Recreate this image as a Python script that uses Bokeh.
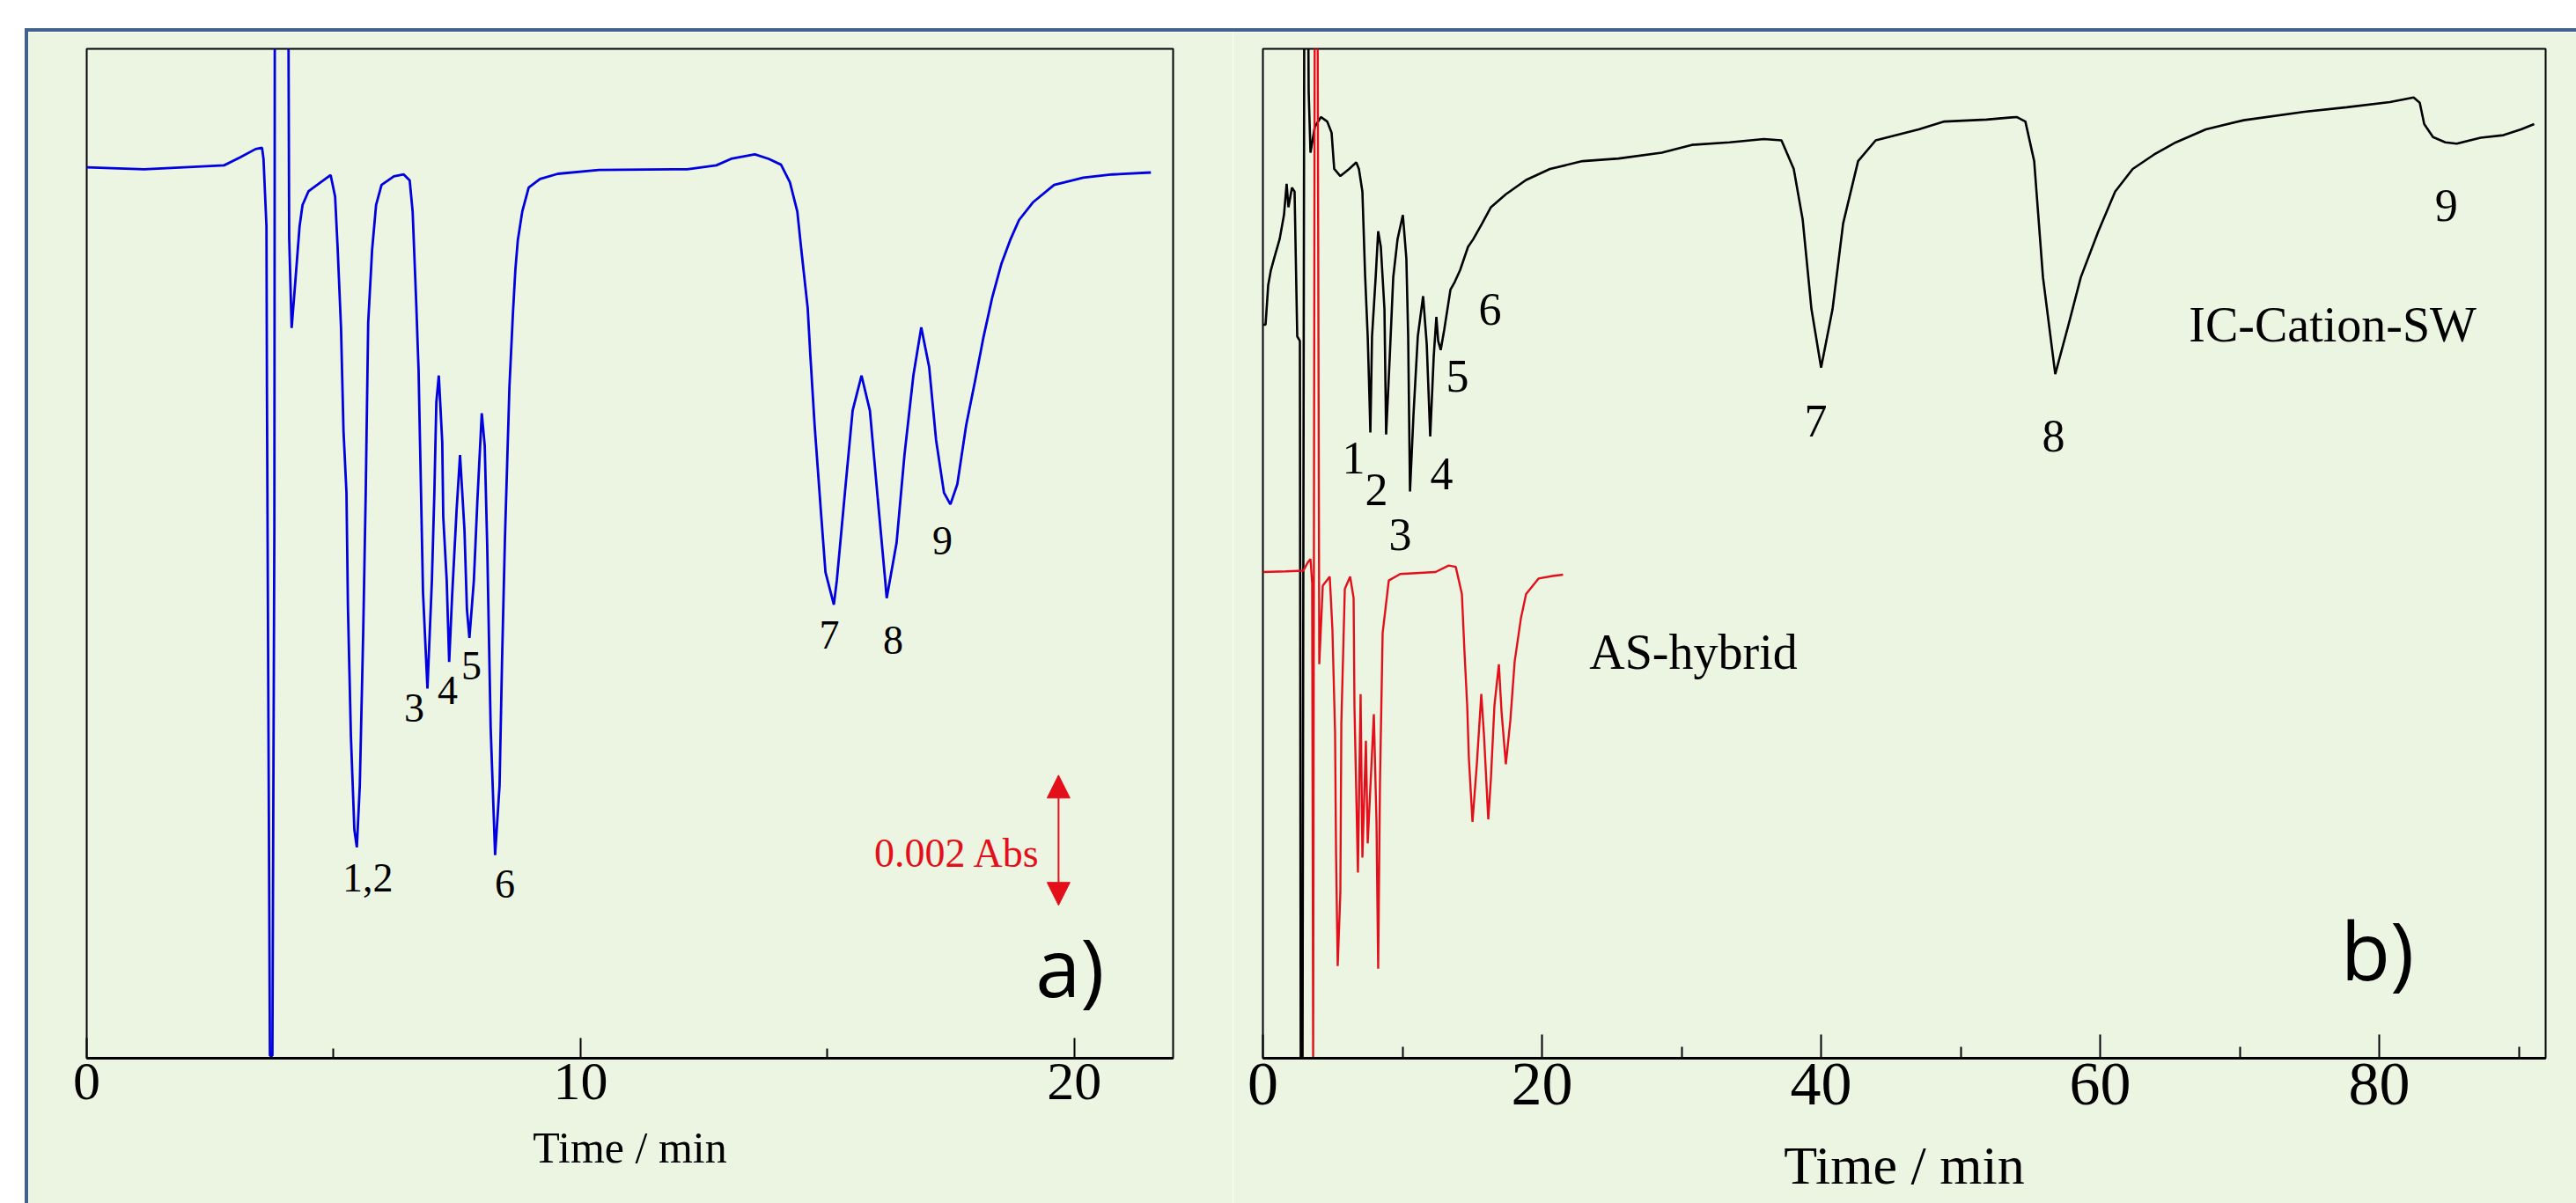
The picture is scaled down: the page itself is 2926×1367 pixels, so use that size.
from bokeh.plotting import figure
from bokeh.models import Range1d, FixedTicker, Label, Arrow, NormalHead, Spacer
from bokeh.layouts import row, column
from bokeh.embed import file_html
from bokeh.resources import INLINE

# ---------------- data (time in min, signal in mAbs-like units) ----------------
a_time = [0.00, 1.16, 2.78, 3.10, 3.42, 3.55, 3.58, 3.64, 3.65, 3.71, 3.76, 3.80, 3.81, 4.08,
          4.10, 4.15, 4.22, 4.31, 4.37, 4.49, 4.72, 4.94, 5.03, 5.08, 5.15, 5.20, 5.26, 5.29,
          5.35, 5.42, 5.47, 5.53, 5.60, 5.65, 5.70, 5.78, 5.86, 5.97, 6.22, 6.42, 6.54, 6.60,
          6.67, 6.72, 6.77, 6.81, 6.90, 6.99, 7.04, 7.08, 7.13, 7.20, 7.22, 7.29, 7.34, 7.40,
          7.49, 7.56, 7.65, 7.70, 7.75, 7.84, 7.91, 8.00, 8.06, 8.11, 8.18, 8.27, 8.36, 8.41,
          8.47, 8.56, 8.63, 8.68, 8.73, 8.82, 8.95, 9.18, 9.54, 10.37, 12.16, 12.75, 13.05,
          13.53, 13.81, 14.06, 14.24, 14.39, 14.47, 14.60, 14.65, 14.74, 14.87, 14.96, 15.13,
          15.19, 15.37, 15.51, 15.69, 15.86, 16.02, 16.17, 16.20, 16.40, 16.56, 16.74, 16.90,
          17.06, 17.20, 17.36, 17.49, 17.63, 17.81, 17.99, 18.16, 18.34, 18.52, 18.70, 18.88,
          19.16, 19.59, 20.18, 20.77, 21.55]
a_signal = [13.69, 13.66, 13.72, 13.84, 13.97, 13.99, 13.82, 12.78, 10.22, 0.04, 0.04, 8.15, 17.0, 17.0,
            12.61, 11.22, 11.89, 12.78, 13.11, 13.32, 13.45, 13.57, 13.24, 12.47, 11.22, 9.64, 8.69, 6.93,
            4.95, 3.51, 3.24, 4.19, 6.57, 8.69, 11.30, 12.43, 13.11, 13.42, 13.55, 13.58, 13.49, 13.01,
            11.66, 10.58, 8.69, 7.16, 5.68, 7.34, 8.69, 10.08, 10.49, 9.46, 8.32, 7.34, 6.09, 7.11,
            8.42, 9.27, 8.11, 6.89, 6.46, 7.34, 8.55, 9.91, 9.41, 7.88, 5.08, 3.12, 4.19, 6.08,
            8.01, 10.31, 11.43, 12.11, 12.57, 13.01, 13.38, 13.51, 13.59, 13.65, 13.66, 13.72, 13.82,
            13.89, 13.82, 13.73, 13.46, 13.01, 12.43, 11.53, 10.85, 9.73, 8.38, 7.47, 6.97,
            7.34, 8.82, 9.95, 10.49, 9.95, 8.59, 7.34, 7.07, 7.92, 9.27, 10.49, 11.23,
            10.62, 9.50, 8.69, 8.51, 8.82, 9.73, 10.41, 11.08, 11.70, 12.20, 12.57, 12.88,
            13.15, 13.42, 13.53, 13.58, 13.61]

b_ic_time = [0.00, 0.19, 0.38, 0.57, 0.88, 1.20, 1.51, 1.70, 1.83, 2.08, 2.27, 2.46, 2.65, 2.71,
             2.84, 2.97, 3.22, 3.28, 3.41, 3.72, 4.16, 4.61, 4.92, 5.11, 5.55, 6.18, 6.69, 6.88,
             7.13, 7.32, 7.51, 7.63, 7.70, 7.82, 8.08, 8.26, 8.45, 8.71, 8.83, 9.09, 9.34, 9.65,
             10.03, 10.28, 10.41, 10.54, 10.79, 11.10, 11.48, 11.74, 11.99, 12.24, 12.43, 12.56,
             12.74, 13.00, 13.44, 13.75, 14.13, 14.70, 15.08, 15.71, 16.34, 17.41, 18.86, 20.57,
             22.90, 25.49, 28.58, 30.73, 33.44, 35.90, 37.16, 38.04, 38.68, 39.31, 40.00, 40.82,
             41.58, 42.65, 43.91, 47.00, 48.83, 51.86, 54.01, 54.64, 55.27, 55.90, 56.78, 57.73,
             58.61, 59.87, 61.07, 62.33, 63.85, 65.43, 67.57, 70.28, 74.64, 77.67, 80.76, 82.46,
             82.90, 83.22, 83.85, 84.73, 85.55, 87.26, 88.90, 90.16, 91.10]
b_ic_signal = [11.30, 11.30, 11.91, 12.14, 12.38, 12.62, 12.99, 13.47, 13.11, 13.41, 13.35, 11.12, 11.05, 0.00,
               0.00, 17.0, 17.0, 14.89, 13.95, 14.35, 14.50, 14.43, 14.26, 13.70, 13.59, 13.70, 13.80, 13.70,
               13.35, 12.08, 11.12, 10.22, 9.64, 11.12, 12.03, 12.74, 12.50, 11.54, 9.61, 10.81, 12.03, 12.62,
               12.99, 12.32, 11.12, 8.73, 9.91, 11.12, 11.74, 11.00, 9.58, 10.81, 11.42, 11.05,
               10.91, 11.23, 11.84, 11.96, 12.14, 12.50, 12.62, 12.86, 13.11, 13.31, 13.53, 13.70,
               13.82, 13.86, 13.95, 14.07, 14.11, 14.16, 14.14, 13.70, 12.92, 11.54, 10.64, 11.54,
               12.86, 13.82, 14.14, 14.31, 14.43, 14.46, 14.50, 14.43, 13.82, 12.03, 10.54, 11.30,
               12.03, 12.74, 13.35, 13.70, 13.92, 14.11, 14.31, 14.45, 14.58, 14.65, 14.73, 14.80,
               14.72, 14.39, 14.19, 14.11, 14.09, 14.18, 14.22, 14.31, 14.39]

b_as_time = [0.00, 1.64, 2.90, 3.22, 3.41, 3.53, 3.60, 3.72, 3.91, 4.04, 4.29, 4.79, 4.98, 5.17,
             5.24, 5.36, 5.55, 5.62, 5.87, 6.25, 6.50, 6.56, 6.81, 7.00, 7.13, 7.38, 7.51, 7.95,
             8.14, 8.26, 8.39, 8.58, 9.02, 9.84, 12.37, 13.31, 13.82, 14.26, 14.45, 14.64, 14.76,
             15.02, 15.33, 15.65, 15.84, 16.15, 16.34, 16.59, 16.91, 17.10, 17.41, 17.73, 18.04,
             18.49, 18.86, 19.75, 20.76, 21.51]
b_as_signal = [7.49, 7.50, 7.51, 7.64, 7.69, 7.32, 0.00, 17.0, 17.0, 6.07, 7.28, 7.42, 6.61, 5.03,
               3.18, 1.42, 2.55, 5.16, 7.23, 7.42, 7.09, 5.43, 2.86, 5.61, 3.09, 4.89, 3.31, 5.30,
               3.64, 1.38, 4.26, 6.55, 7.36, 7.46, 7.49, 7.59, 7.57, 7.15, 6.24, 5.43, 4.62,
               3.64, 4.53, 5.61, 4.99, 3.68, 4.31, 5.43, 6.07, 5.34, 4.53, 5.20, 6.11,
               6.78, 7.15, 7.39, 7.43, 7.45]

a_ticks = [0, 10, 20]
a_minor_ticks = [5, 15]
b_ticks = [0, 20, 40, 60, 80]
b_minor_ticks = [10, 30, 50, 70, 90]
a_peak_labels = ["1,2", "3", "4", "5", "6", "7", "8", "9"]
b_peak_labels = ["1", "2", "3", "4", "5", "6", "7", "8", "9"]
x_title = "Time / min"
scale_text = "0.002 Abs"

# ---------------- styling ----------------
BG = "#ECF5E2"
FRAME_BLUE = "#41628F"
SERIF = "Liberation Serif"
SANS = "Open Sans"
RED = "#E3101B"


def base_fig(width, height, xr, yr, borders, ticks, minor, tick_in, minor_in, tick_fs, title_fs, title_standoff):
    left, right, top, bottom = borders
    p = figure(width=width, height=height, x_range=xr, y_range=yr,
               output_backend="svg", toolbar_location=None, tools="",
               min_border_left=left, min_border_right=right,
               min_border_top=top, min_border_bottom=bottom)
    p.background_fill_color = BG
    p.border_fill_color = BG
    p.outline_line_color = "black"
    p.outline_line_width = 2
    p.grid.visible = False
    p.yaxis.visible = False
    ax = p.xaxis[0]
    ax.ticker = FixedTicker(ticks=ticks, minor_ticks=minor)
    ax.major_tick_in = tick_in
    ax.major_tick_out = 0
    ax.minor_tick_in = minor_in
    ax.minor_tick_out = 0
    ax.major_tick_line_width = 2
    ax.minor_tick_line_width = 2
    ax.major_tick_line_color = "black"
    ax.minor_tick_line_color = "black"
    ax.axis_line_color = "black"
    ax.axis_line_width = 3
    ax.major_label_text_font = SERIF
    ax.major_label_text_font_size = tick_fs
    ax.major_label_text_color = "black"
    ax.major_label_standoff = 6
    ax.axis_label = x_title
    ax.axis_label_text_font = SERIF
    ax.axis_label_text_font_style = "normal"
    ax.axis_label_text_font_size = title_fs
    ax.axis_label_text_color = "black"
    ax.axis_label_standoff = title_standoff
    return p


def add_label(p, x, y, text, size, color="black", font=SERIF, align="center"):
    p.add_layout(Label(x=x, y=y, text=text, text_font=font, text_font_size=size,
                       text_color=color, text_align=align, text_baseline="middle"))


# ---------------- panel a ----------------
pa = base_fig(1368, 1331, Range1d(0, 22), Range1d(0, 15.51), (66, 68, 19, 164),
              a_ticks, a_minor_ticks, 23, 11, "62px", "50px", 24)
pa.line(a_time, a_signal, line_color="#0000E0", line_width=2.8)

a_label_pos = [(5.69, 2.77), (6.63, 5.38), (7.31, 5.65), (7.79, 6.03), (8.47, 2.68),
               (15.04, 6.51), (16.33, 6.42), (17.33, 7.95)]
for txt, (x, y) in zip(a_peak_labels, a_label_pos):
    add_label(pa, x, y, txt, "46px")

add_label(pa, 19.32, 3.15, scale_text, "46px", color=RED, align="right")
pa.add_layout(Arrow(start=NormalHead(size=26, fill_color=RED, line_color=RED),
                    end=NormalHead(size=26, fill_color=RED, line_color=RED),
                    x_start=19.68, y_start=2.35, x_end=19.68, y_end=4.35,
                    line_color=RED, line_width=2))
add_label(pa, 19.91, 1.42, "a)", "92px", font=SANS)

# ---------------- panel b ----------------
pb = base_fig(1526, 1331, Range1d(0, 91.92), Range1d(0, 15.55), (34, 35, 15, 165),
              b_ticks, b_minor_ticks, 27, 13, "70px", "62px", 32)
pb.line(b_ic_time, b_ic_signal, line_color="black", line_width=2.6)
pb.line(b_as_time, b_as_signal, line_color=RED, line_width=2.4)

b_label_pos = [(6.50, 9.24), (8.14, 8.76), (9.84, 8.07), (12.81, 9.00), (13.94, 10.51),
               (16.28, 11.54), (39.62, 9.82), (56.66, 9.58), (84.80, 13.14)]
for txt, (x, y) in zip(b_peak_labels, b_label_pos):
    add_label(pb, x, y, txt, "52px")
add_label(pb, 76.66, 11.30, "IC-Cation-SW", "56px")
add_label(pb, 30.85, 6.26, "AS-hybrid", "56px")
add_label(pb, 79.87, 1.68, "b)", "92px", font=SANS)

# ---------------- page frame ----------------
top_white = Spacer(width=2926, height=32)
left_white = Spacer(width=28, height=1335)
top_bar = Spacer(width=2898, height=4, styles={"background-color": FRAME_BLUE})
left_bar = Spacer(width=4, height=1331, styles={"background-color": FRAME_BLUE})

layout = column(top_white,
                row(left_white,
                    column(top_bar, row(left_bar, pa, pb, spacing=0), spacing=0),
                    spacing=0),
                spacing=0)

open("out.html", "w").write(file_html(layout, INLINE))
